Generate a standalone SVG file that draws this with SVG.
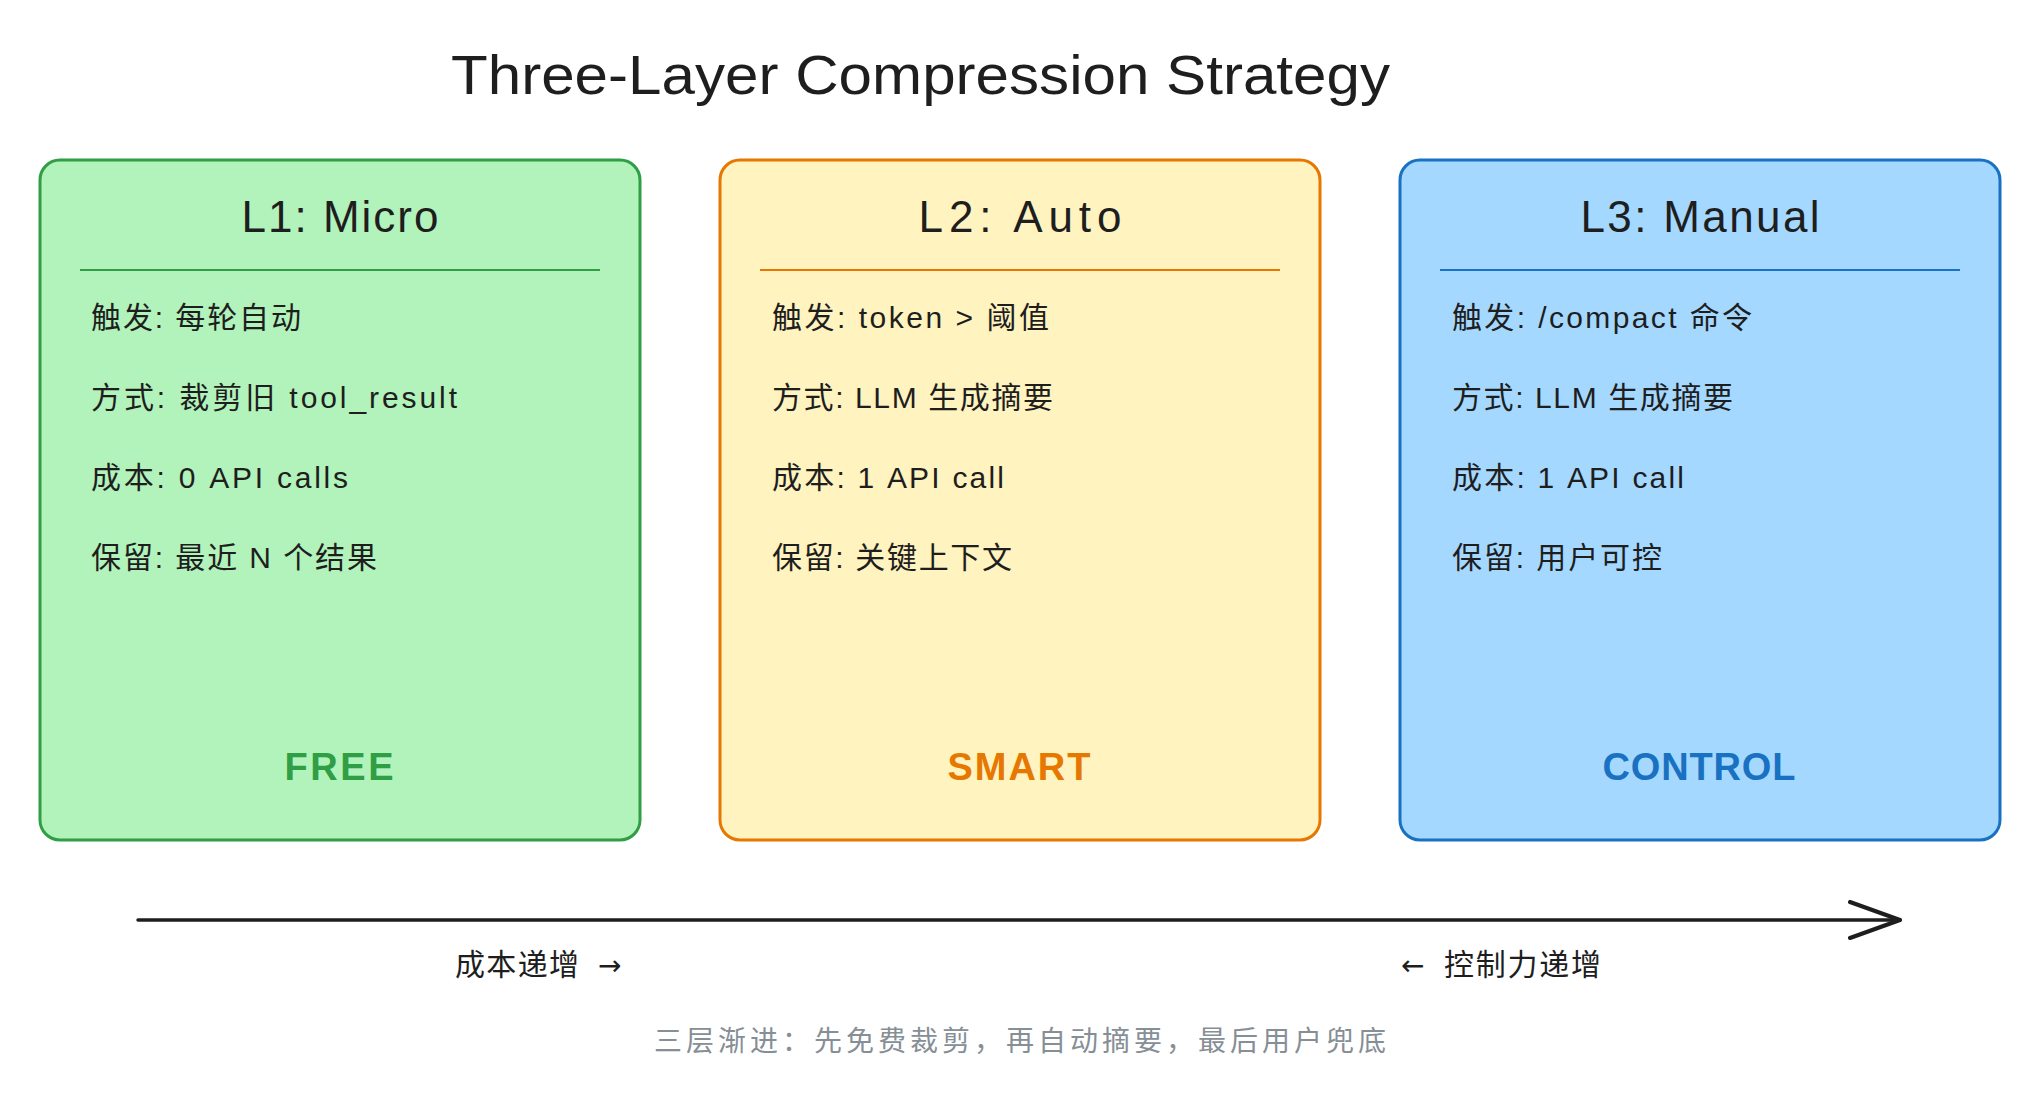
<svg xmlns="http://www.w3.org/2000/svg" width="2040" height="1104" viewBox="0 0 2040 1104">
  <style>
    text { font-family: "Liberation Sans", "Noto Sans CJK SC", sans-serif; fill: #1e1e1e; }
    .title { font-size: 56px; }
    .head { font-size: 44px; text-anchor: middle; }
    .body { font-size: 30px; }
    .tag { font-size: 38px; font-weight: bold; text-anchor: middle; letter-spacing: 2px; }
    .axis { font-size: 30px; }
    .arr { font-family: "DejaVu Sans", sans-serif; font-size: 28px; }
    .caption { font-size: 28px; fill: #868e96; text-anchor: middle; }
    .box { stroke-width: 3; }
    .div { stroke-width: 2; }
  </style>
  <defs>
    <marker id="open" markerWidth="60" markerHeight="50" refX="52" refY="20" orient="auto" markerUnits="userSpaceOnUse">
      <path d="M2,2 L52,20 L2,38" fill="none" stroke="#1e1e1e" stroke-width="4" stroke-linecap="round" stroke-linejoin="round"/>
    </marker>
  </defs>
  <rect width="2040" height="1104" fill="#ffffff"/>

  <text class="title" x="451" y="94" textLength="939" lengthAdjust="spacingAndGlyphs">Three-Layer Compression Strategy</text>

  <g id="L1">
    <rect class="box" x="40" y="160" width="600" height="680" rx="20" fill="#b2f2bb" stroke="#2f9e44"/>
    <text class="head" x="340" y="232" textLength="197">L1: Micro</text>
    <line class="div" x1="80" y1="270" x2="600" y2="270" stroke="#2f9e44"/>
    <text class="body" x="91" y="328" textLength="210">触发: 每轮自动</text>
    <text class="body" x="91" y="408" textLength="366">方式: 裁剪旧 tool_result</text>
    <text class="body" x="91" y="488" textLength="257">成本: 0 API calls</text>
    <text class="body" x="91" y="568" textLength="286">保留: 最近 N 个结果</text>
    <text class="tag" x="340" y="780" style="fill:#2f9e44" textLength="111">FREE</text>
  </g>

  <g id="L2">
    <rect class="box" x="720" y="160" width="600" height="680" rx="20" fill="#fff3bf" stroke="#e67700"/>
    <text class="head" x="1020" y="232" textLength="203">L2: Auto</text>
    <line class="div" x1="760" y1="270" x2="1280" y2="270" stroke="#e67700"/>
    <text class="body" x="772" y="328" textLength="277">触发: token &gt; 阈值</text>
    <text class="body" x="772" y="408" textLength="281">方式: LLM 生成摘要</text>
    <text class="body" x="772" y="488" textLength="232">成本: 1 API call</text>
    <text class="body" x="772" y="568" textLength="240">保留: 关键上下文</text>
    <text class="tag" x="1020" y="780" style="fill:#e67700" textLength="145">SMART</text>
  </g>

  <g id="L3">
    <rect class="box" x="1400" y="160" width="600" height="680" rx="20" fill="#a5d8ff" stroke="#1971c2"/>
    <text class="head" x="1700" y="232" textLength="239">L3: Manual</text>
    <line class="div" x1="1440" y1="270" x2="1960" y2="270" stroke="#1971c2"/>
    <text class="body" x="1452" y="328" textLength="300">触发: /compact 命令</text>
    <text class="body" x="1452" y="408" textLength="281">方式: LLM 生成摘要</text>
    <text class="body" x="1452" y="488" textLength="232">成本: 1 API call</text>
    <text class="body" x="1452" y="568" textLength="210">保留: 用户可控</text>
    <text class="tag" x="1700" y="780" style="fill:#1971c2" textLength="195">CONTROL</text>
  </g>

  <g id="connectors">
    <line x1="138" y1="920" x2="1900" y2="920" stroke="#1e1e1e" stroke-width="3.5" stroke-linecap="round" marker-end="url(#open)"/>
  </g>

  <g id="labels">
    <text class="axis" x="455" y="975"><tspan textLength="124">成本递增</tspan><tspan class="arr" x="598">→</tspan></text>
    <text class="axis" x="1401" y="975"><tspan class="arr">←</tspan><tspan x="1444" textLength="157">控制力递增</tspan></text>
    <text class="caption" x="1020" y="1051" textLength="732">三层渐进：先免费裁剪，再自动摘要，最后用户兜底</text>
  </g>
</svg>
